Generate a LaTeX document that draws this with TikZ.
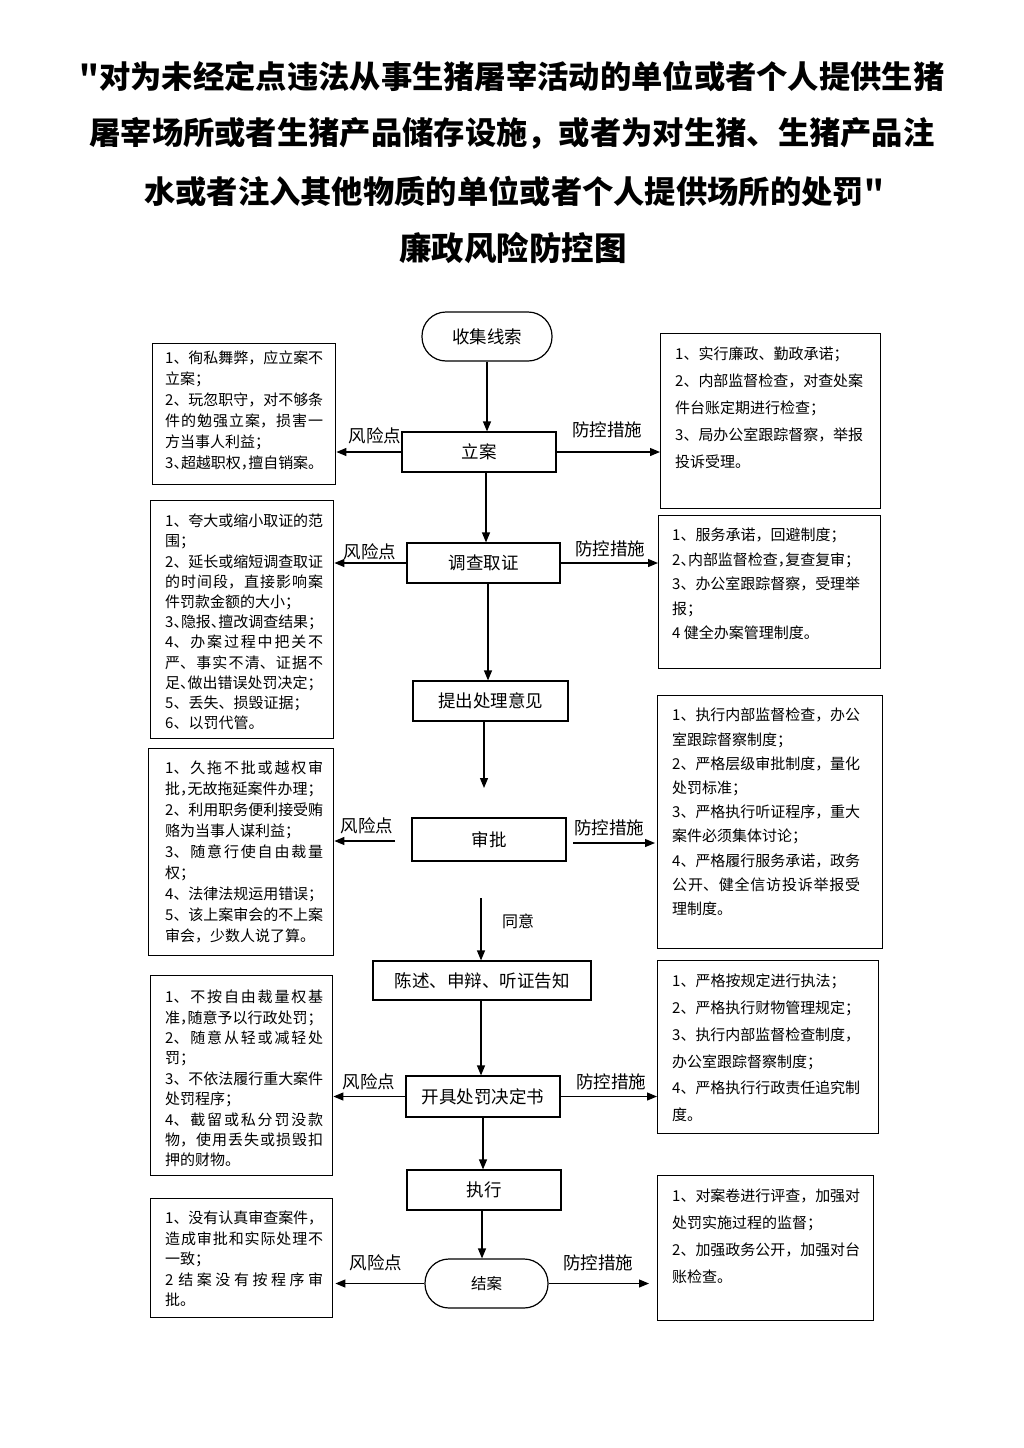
\documentclass[tikz,border=0pt]{standalone}
\usepackage{fontspec}
\setmainfont{Noto Sans CJK SC}
\newfontfamily\tfont{Noto Sans CJK SC}
\usetikzlibrary{arrows.meta}
\XeTeXlinebreaklocale "zh"
\XeTeXlinebreakskip=0pt plus 4pt minus 0.2pt
\newcommand\sbfont[1]{\fontsize{15pt}{#1pt}\selectfont\parindent=0pt\parskip=0pt\lineskiplimit=-100pt\linepenalty=1000\tolerance=9999\relax}
\newcommand\hp[1]{\makebox[0.5em][l]{#1}}
\tikzset{
  flow/.style={draw, line width=1.2pt, inner sep=0pt, font=\fontsize{17.5pt}{21pt}\selectfont},
  term/.style={flow, rounded corners=24pt},
  sbox/.style={draw, line width=1.4pt, anchor=north west, inner sep=0pt},
  ltext/.style={anchor=west, inner sep=0pt, text width=158pt, align=justify, font=\sbfont{#1}},
  rtext/.style={anchor=west, inner sep=0pt, text width=188pt, align=justify, font=\sbfont{#1}},
  lab/.style={inner sep=0pt, font=\fontsize{17.5pt}{21pt}\selectfont},
  arr/.style={line width=1.2pt, -{Triangle[length=10pt,width=8pt]}},
  ttl/.style={inner sep=0pt, font=\tfont\bfseries\fontsize{31.3pt}{36pt}\selectfont},
}
\begin{document}
\begin{tikzpicture}[x=1pt,y=-1pt]
\useasboundingbox (0,0) rectangle (1024,1448);
\fill[white] (0,0) rectangle (1024,1448);

% title
\node[ttl] (t1) at (512,76) {"对为未经定点违法从事生猪屠宰活动的单位或者个人提供生猪};
\node[ttl] (t2) at (512,133) {屠宰场所或者生猪产品储存设施，或者为对生猪、生猪产品注};
\node[ttl] (t3) at (514,191) {水或者注入其他物质的单位或者个人提供场所的处罚"};
\node[ttl, font=\tfont\bfseries\fontsize{32.5pt}{36pt}\selectfont] (t4) at (513,248) {廉政风险防控图};

% flow nodes
\node[term, minimum width=130pt, minimum height=49pt] (start) at (487,336.5) {收集线索};
\node[flow, minimum width=154pt, minimum height=40pt] (la) at (479,452) {立案};
\node[flow, minimum width=153pt, minimum height=40pt] (dc) at (483.5,563) {调查取证};
\node[flow, minimum width=155pt, minimum height=40pt] (tc) at (490.5,701) {提出处理意见};
\node[flow, minimum width=154pt, minimum height=43pt] (sp) at (489,839.5) {审批};
\node[flow, minimum width=218pt, minimum height=39pt] (cs) at (482,980.5) {陈述、申辩、听证告知};
\node[flow, minimum width=154pt, minimum height=41pt] (kj) at (483,1096.5) {开具处罚决定书};
\node[flow, minimum width=154pt, minimum height=40pt] (zx) at (484,1190) {执行};
\node[term, minimum width=123pt, minimum height=49pt, font=\fontsize{15.5pt}{19pt}\selectfont] (ja) at (486.5,1283.5) {结案};

% side boxes
\node[sbox, minimum width=183pt, minimum height=141pt] (L1) at (152,343) {};
\node[sbox, minimum width=220pt, minimum height=175pt] (R1) at (660,333) {};
\node[sbox, minimum width=183pt, minimum height=238pt] (L2) at (150,500) {};
\node[sbox, minimum width=222pt, minimum height=153pt] (R2) at (658,515) {};
\node[sbox, minimum width=185pt, minimum height=207pt] (L3) at (148,748) {};
\node[sbox, minimum width=225pt, minimum height=253pt] (R3) at (657,695) {};
\node[sbox, minimum width=182pt, minimum height=200pt] (L4) at (150,975) {};
\node[sbox, minimum width=221pt, minimum height=173pt] (R4) at (657,960) {};
\node[sbox, minimum width=182pt, minimum height=119pt] (L5) at (150,1198) {};
\node[sbox, minimum width=216pt, minimum height=145pt] (R5) at (657,1175) {};

% side texts
\node[ltext=21] (tL1) at (165,410.5) {1、徇私舞弊，应立案不\linebreak 立案；\par 2、玩忽职守，对不够条\linebreak 件的勉强立案，损害一\linebreak 方当事人利益；\par 3\hp{、}超越职权\hp{，}擅自销案。};
\node[rtext=27] (tR1) at (675,408) {1、实行廉政、勤政承诺；\par 2、内部监督检查，对查处案\linebreak 件台账定期进行检查；\par 3、局办公室跟踪督察，举报\linebreak 投诉受理。};
\node[ltext=20.2] (tL2) at (165,622) {1、夸大或缩小取证的范\linebreak 围；\par 2、延长或缩短调查取证\linebreak 的时间段，直接影响案\linebreak 件罚款金额的大小；\par 3\hp{、}隐报\hp{、}擅改调查结果；\par 4、办案过程中把关不\linebreak 严、事实不清、证据不\linebreak 足\hp{、}做出错误处罚决定；\par 5、丢失、损毁证据；\par 6、以罚代管。};
\node[rtext=24.5] (tR2) at (672,584) {1、服务承诺，回避制度；\par 2\hp{、}内部监督检查\hp{，}复查复审；\par 3、办公室跟踪督察，受理举\linebreak 报；\par 4 健全办案管理制度。};
\node[ltext=21] (tL3) at (165,852) {1、久拖不批或越权审\linebreak 批\hp{，}无故拖延案件办理；\par 2、利用职务便利接受贿\linebreak 赂为当事人谋利益；\par 3、随意行使自由裁量\linebreak 权；\par 4、法律法规运用错误；\par 5、该上案审会的不上案\linebreak 审会，少数人说了算。};
\node[rtext=24.2] (tR3) at (672,812) {1、执行内部监督检查，办公\linebreak 室跟踪督察制度；\par 2、严格层级审批制度，量化\linebreak 处罚标准；\par 3、严格执行听证程序，重大\linebreak 案件必须集体讨论；\par 4、严格履行服务承诺，政务\linebreak 公开、健全信访投诉举报受\linebreak 理制度。};
\node[ltext=20.4] (tL4) at (165,1078.5) {1、不按自由裁量权基\linebreak 准\hp{，}随意予以行政处罚；\par 2、随意从轻或减轻处\linebreak 罚；\par 3、不依法履行重大案件\linebreak 处罚程序；\par 4、截留或私分罚没款\linebreak 物，使用丢失或损毁扣\linebreak 押的财物。};
\node[rtext=26.8] (tR4) at (672,1048) {1、严格按规定进行执法；\par 2、严格执行财物管理规定；\par 3、执行内部监督检查制度，\linebreak 办公室跟踪督察制度；\par 4、严格执行行政责任追究制\linebreak 度。};
\node[ltext=20.5] (tL5) at (165,1259) {1、没有认真审查案件，\linebreak 造成审批和实际处理不\linebreak 一致；\par 2 结案没有按程序审\linebreak 批。};
\node[rtext=27] (tR5) at (672,1236.5) {1、对案卷进行评查，加强对\linebreak 处罚实施过程的监督；\par 2、加强政务公开，加强对台\linebreak 账检查。};

% labels
\node[lab] (rk1) at (375,436) {风险点};
\node[lab] (fk1) at (607,430) {防控措施};
\node[lab] (rk2) at (370,552) {风险点};
\node[lab] (fk2) at (610,549) {防控措施};
\node[lab] (rk3) at (367,826) {风险点};
\node[lab] (fk3) at (609,828) {防控措施};
\node[lab] (rk4) at (369,1082) {风险点};
\node[lab] (fk4) at (611,1082) {防控措施};
\node[lab] (rk5) at (376,1263) {风险点};
\node[lab] (fk5) at (598,1263) {防控措施};
\node[inner sep=0pt, font=\fontsize{16pt}{19pt}\selectfont] (ty) at (518,921) {同意};

% vertical connectors
\coordinate (c1) at (484,788);
\coordinate (c2) at (481,898);
\draw[arr] (start.south) -- (la.north -| start.south);
\draw[arr] (la.south -| 486,0) -- (dc.north -| 486,0);
\draw[arr] (dc.south -| 488,0) -- (tc.north -| 488,0);
\draw[arr] (tc.south -| c1) -- (c1);
\draw[arr] (c2) -- (cs.north -| c2);
\draw[arr] (cs.south -| c2) -- (kj.north -| c2);
\draw[arr] (kj.south -| 483,0) -- (zx.north -| 483,0);
\draw[arr] (zx.south -| 482,0) -- (ja.north -| 482,0);

% horizontal connectors
\draw[arr] (la.west) -- (L1.east |- la.west);
\draw[arr] (la.east) -- (R1.west |- la.east);
\draw[arr] (dc.west) -- (L2.east |- dc.west);
\draw[arr] (dc.east) -- (R2.west |- dc.east);
\coordinate (c3) at (395,841);
\coordinate (c4) at (573,843);
\draw[arr] (c3) -- (L3.east |- c3);
\draw[arr, shorten >=2pt] (c4) -- (R3.west |- c4);
\draw[arr] (kj.west) -- (L4.east |- kj.west);
\draw[arr] (kj.east) -- (R4.west |- kj.east);
\draw[arr, shorten >=2pt] (ja.west) -- (L5.east |- ja.west);
\draw[arr, shorten >=8pt] (ja.east) -- (R5.west |- ja.east);
\end{tikzpicture}
\end{document}
